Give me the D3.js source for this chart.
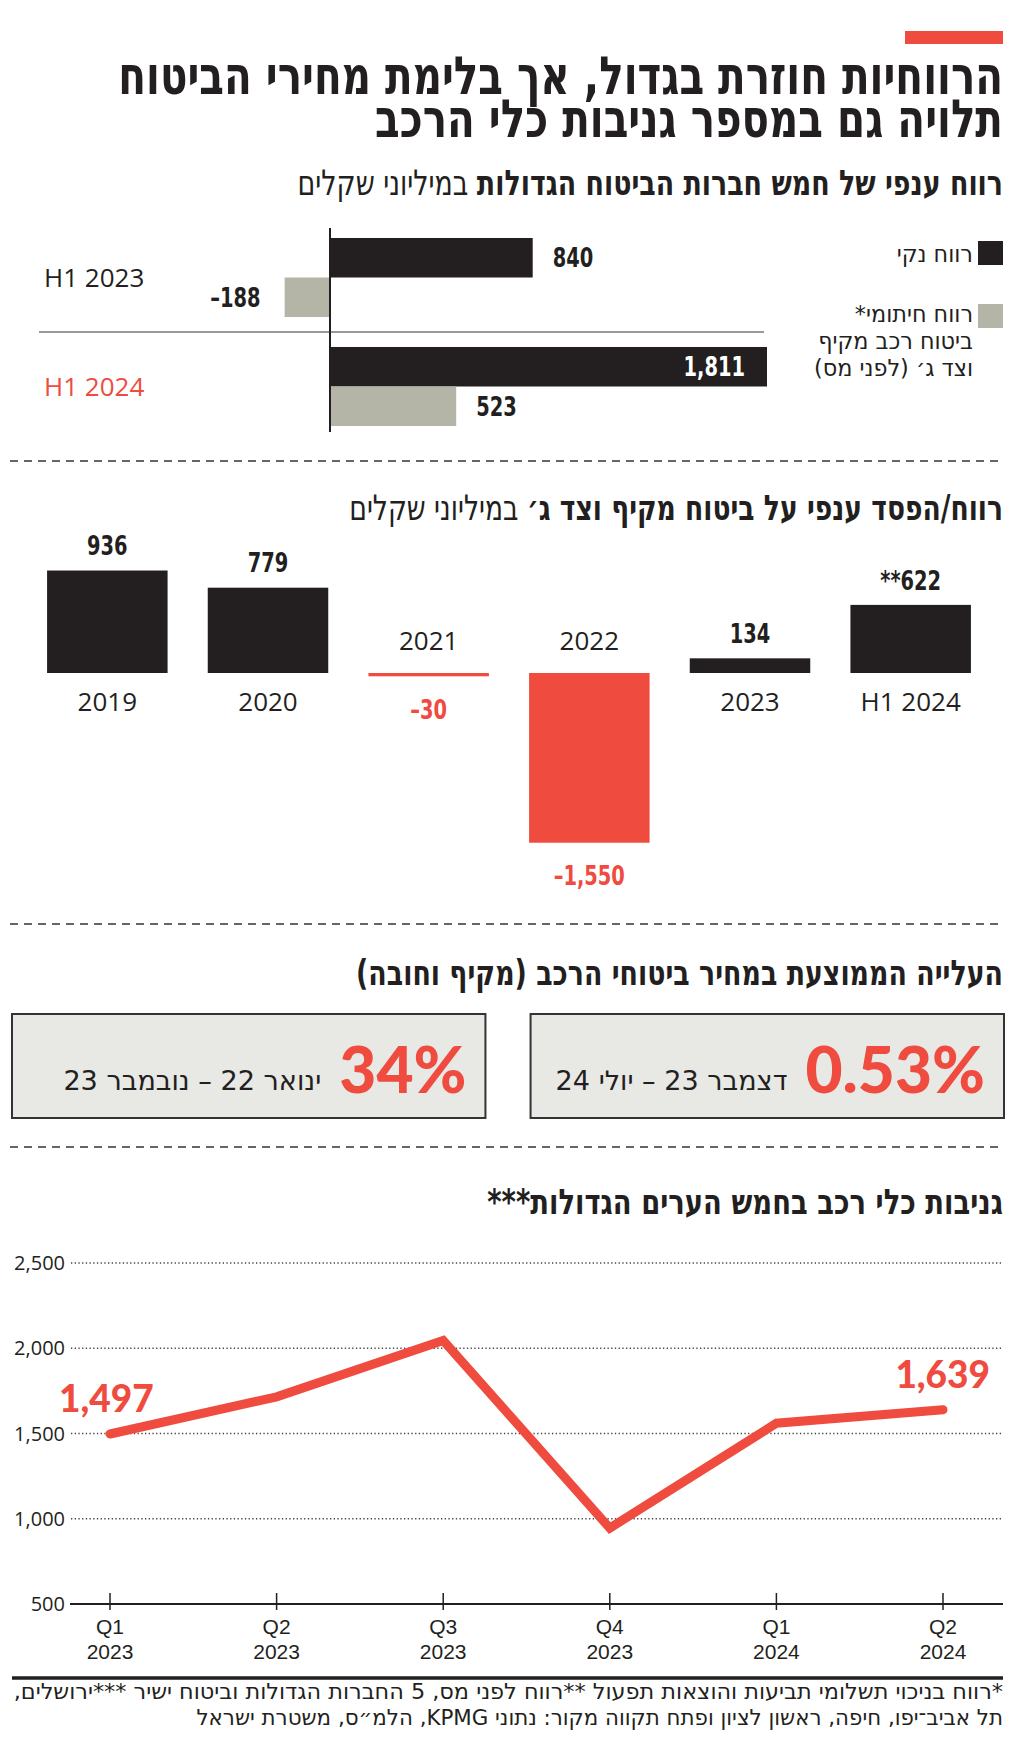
<!DOCTYPE html>
<html>
<head>
<meta charset="utf-8">
<script src="https://cdn.jsdelivr.net/npm/d3@7"></script>
<style>
  body { margin: 0; background: #fff; }
  svg { display: block; }
</style>
</head>
<body>
<div id="chart"></div>
<script>
const W = 1024, H = 1742;
const RED = "#ef4b3f", INK = "#231f20", STONE = "#b4b5a7", BOX = "#e8e8e5";
const COND = "'Liberation Sans Narrow', 'DejaVu Sans Condensed', sans-serif";
const SANS = "'Open Sans', 'Liberation Sans', sans-serif";
const ROUND = "Lato, 'Open Sans', sans-serif";

// headline
const titleLines = ["הרווחיות חוזרת בגדול, אך בלימת מחירי הביטוח", "תלויה גם במספר גניבות כלי הרכב"];
const unitText = " במיליוני שקלים";

// chart 1: profit of the five big insurers
const halves = ["H1 2023", "H1 2024"];
const netProfit = [840, 1811];
const uwProfit = [-188, 523];
const legendNet = ["רווח נקי"];
const legendUw = ["רווח חיתומי*", "ביטוח רכב מקיף", "וצד ג׳ (לפני מס)"];

// chart 2: motor segment profit/loss
const segYears = ["2019", "2020", "2021", "2022", "2023", "H1 2024"];
const segProfit = [936, 779, -30, -1550, 134, 622];
const segNotes = ["", "", "", "", "", "**"];

// chart 3: average price rise
const rises = ["0.53%", "34%"];
const risePeriods = ["דצמבר 23 – יולי 24", "ינואר 22 – נובמבר 23"];

// chart 4: car thefts
const quarters = ["Q1", "Q2", "Q3", "Q4", "Q1", "Q2"];
const quarterYears = ["2023", "2023", "2023", "2023", "2024", "2024"];
const thefts = [1497, 1715, 2045, 945, 1560, 1639];
const theftTicks = [500, 1000, 1500, 2000, 2500];

const footLines = [
  "*רווח בניכוי תשלומי תביעות והוצאות תפעול **רווח לפני מס, 5 החברות הגדולות וביטוח ישיר ***ירושלים,",
  "תל אביב־יפו, חיפה, ראשון לציון ופתח תקווה מקור: נתוני KPMG, הלמ״ס, משטרת ישראל"
];

const fmt = d3.format(",");
const minus = v => fmt(v).replace("−", "–");

const svg = d3.select("#chart").append("svg")
    .attr("width", W)
    .attr("height", H)
    .style("font-family", SANS);

function heb(g, x, y, parts, size) {
  const t = g.append("text")
      .attr("x", x)
      .attr("y", y)
      .attr("direction", "rtl")
      .attr("text-anchor", "start")
      .style("font-family", COND)
      .style("font-size", size + "px")
      .attr("fill", INK);
  parts.forEach(p => t.append("tspan").style("font-weight", p[1] ? 700 : 400).text(p[0]));
  return t;
}

// squeeze a text horizontally around x so that it is `width` wide
function squeeze(t, x, width) {
  const w = t.node().getBBox().width;
  narrow(t, x, width / w);
}

function narrow(t, x, k) {
  t.attr("transform", `translate(${x},0) scale(${k},1) translate(${-x},0)`);
}

function dashed(y) {
  svg.append("line")
      .attr("x1", 10).attr("x2", 1003)
      .attr("y1", y).attr("y2", y)
      .attr("stroke", "#333")
      .attr("stroke-width", 1.6)
      .attr("stroke-dasharray", "8,6");
}

function numLabel(g, x, y, anchor, color, txt) {
  const t = g.append("text")
      .attr("x", x)
      .attr("y", y)
      .attr("dy", "0.36em")
      .attr("text-anchor", anchor)
      .style("font-family", COND)
      .style("font-weight", 700)
      .style("font-size", "27px")
      .attr("fill", color)
      .text(txt);
  narrow(t, x, 0.8);
  return t;
}

// ---------- header ----------
svg.append("rect").attr("x", 905).attr("y", 31).attr("width", 98).attr("height", 13).attr("fill", RED);
const title = svg.append("text")
    .attr("direction", "rtl")
    .attr("text-anchor", "start")
    .style("font-family", COND)
    .style("font-weight", 700)
    .style("font-size", "53px")
    .attr("fill", INK);
titleLines.forEach((s, i) => title.append("tspan").attr("x", 1003).attr("y", 94 + i * 43).text(s));
squeeze(title, 1003, 885);

// ---------- chart 1 ----------
squeeze(heb(svg, 1003, 195, [["רווח ענפי של חמש חברות הביטוח הגדולות", 1], [unitText, 0]], 35), 1003, 706);

const c1 = svg.append("g");
const x1 = d3.scaleLinear().domain([0, 1811]).range([330, 767]);
const y1 = d3.scaleBand().domain(halves).range([223, 441]).paddingInner(0.275).paddingOuter(0.1375);
const sub = d3.scaleBand().domain(["net", "uw"]).range([0, y1.bandwidth()]);

const rows = halves.map((h, i) => ({ h, net: netProfit[i], uw: uwProfit[i] }));

rows.forEach(r => {
  [["net", r.net, INK], ["uw", r.uw, STONE]].forEach(([k, v, c]) => {
    const yy = y1(r.h) + sub(k);
    c1.append("rect")
        .attr("x", x1(Math.min(0, v)))
        .attr("y", yy)
        .attr("width", Math.abs(x1(v) - x1(0)))
        .attr("height", sub.bandwidth())
        .attr("fill", c);
    const inside = v === d3.max(netProfit);
    numLabel(c1,
        inside ? x1(v) - 22 : v < 0 ? x1(v) - 24 : x1(v) + 20,
        yy + sub.bandwidth() / 2,
        inside || v < 0 ? "end" : "start",
        inside ? "#fff" : INK,
        minus(v));
  });
  c1.append("text")
      .attr("x", 44)
      .attr("y", y1(r.h) + y1.bandwidth() / 2)
      .attr("dy", "0.36em")
      .style("font-size", "26px")
      .attr("fill", r.h === "H1 2024" ? RED : INK)
      .text(r.h);
});

c1.append("line")
    .attr("x1", 39).attr("x2", 764)
    .attr("y1", y1(halves[1]) - y1.step() * y1.paddingInner() / 2)
    .attr("y2", y1(halves[1]) - y1.step() * y1.paddingInner() / 2)
    .attr("stroke", "#777").attr("stroke-width", 1.5);

c1.append("line")
    .attr("x1", x1(0)).attr("x2", x1(0))
    .attr("y1", 228).attr("y2", 432)
    .attr("stroke", INK).attr("stroke-width", 2);

// legend
c1.append("rect").attr("x", 978).attr("y", 241).attr("width", 25).attr("height", 24).attr("fill", INK);
c1.append("rect").attr("x", 978).attr("y", 304).attr("width", 25).attr("height", 24).attr("fill", STONE);
legendNet.forEach((s, i) => narrow(heb(c1, 973, 262 + i * 27, [[s, 0]], 23), 973, 1.08));
legendUw.forEach((s, i) => narrow(heb(c1, 973, 322 + i * 27, [[s, 0]], 23), 973, 1.08));

dashed(461);

// ---------- chart 2 ----------
squeeze(heb(svg, 1003, 520, [["רווח/הפסד ענפי על ביטוח מקיף וצד ג׳", 1], [unitText, 0]], 35), 1003, 654);

const c2 = svg.append("g");
const x2 = d3.scaleBand().domain(segYears).range([27, 991]).paddingInner(0.25).paddingOuter(0.125);
const y2 = d3.scaleLinear().domain([0, 1000]).range([673, 563.5]);

segYears.forEach((yr, i) => {
  const v = segProfit[i];
  const cx = x2(yr) + x2.bandwidth() / 2;
  c2.append("rect")
      .attr("x", x2(yr))
      .attr("y", y2(Math.max(0, v)))
      .attr("width", x2.bandwidth())
      .attr("height", Math.abs(y2(v) - y2(0)))
      .attr("fill", v < 0 ? RED : INK);
  numLabel(c2, cx, v < 0 ? y2(v) + 33 : y2(v) - 25, "middle", v < 0 ? RED : INK, segNotes[i] + minus(v));
  c2.append("text")
      .attr("x", cx)
      .attr("y", v < 0 ? y2(0) - 32 : y2(0) + 29)
      .attr("dy", "0.36em")
      .attr("text-anchor", "middle")
      .style("font-size", "26px")
      .attr("fill", INK)
      .text(yr);
});

dashed(924);

// ---------- chart 3 ----------
squeeze(heb(svg, 1003, 985, [["העלייה הממוצעת במחיר ביטוחי הרכב (מקיף וחובה)", 1]], 35), 1003, 647);

const c3 = svg.append("g");
const x3 = d3.scaleBand().domain(rises).range([1004, 12]).paddingInner(0.087);
const periodWidth = [232, 258];

rises.forEach((r, i) => {
  const bx = x3(r), bw = x3.bandwidth();
  c3.append("rect")
      .attr("x", bx).attr("y", 1014)
      .attr("width", bw).attr("height", 104)
      .attr("fill", BOX)
      .attr("stroke", "#333").attr("stroke-width", 2);
  const big = c3.append("text")
      .attr("x", bx + bw - 19)
      .attr("y", 1093)
      .attr("text-anchor", "end")
      .style("font-family", ROUND)
      .style("font-weight", 900)
      .style("font-size", "64px")
      .attr("fill", RED)
      .text(r);
  const px = bx + bw - 19 - big.node().getComputedTextLength() - 18;
  squeeze(heb(c3, px, 1090, [[risePeriods[i], 0]], 27), px, periodWidth[i]);
});

dashed(1147);

// ---------- chart 4 ----------
squeeze(heb(svg, 1003, 1214, [["גניבות כלי רכב בחמש הערים הגדולות***", 1]], 35), 1003, 516);

const c4 = svg.append("g");
const x4 = d3.scalePoint().domain(d3.range(thefts.length)).range([110, 943]);
const y4 = d3.scaleLinear().domain([500, 2500]).range([1604, 1263]);

c4.selectAll(".grid")
  .data(theftTicks.filter(t => t > 500))
  .join("line")
    .attr("x1", 71).attr("x2", 1003)
    .attr("y1", d => y4(d)).attr("y2", d => y4(d))
    .attr("stroke", "#444")
    .attr("stroke-width", 1.3)
    .attr("stroke-dasharray", "1.3,2.4");

c4.append("line")
    .attr("x1", 70).attr("x2", 1003)
    .attr("y1", y4(500)).attr("y2", y4(500))
    .attr("stroke", INK).attr("stroke-width", 2.2);

c4.selectAll(".ytick")
  .data(theftTicks)
  .join("text")
    .attr("x", 65)
    .attr("y", d => y4(d))
    .attr("dy", "0.36em")
    .attr("text-anchor", "end")
    .style("font-size", "20px")
    .attr("fill", INK)
    .text(d => fmt(d));

quarters.forEach((q, i) => {
  c4.append("line")
      .attr("x1", x4(i)).attr("x2", x4(i))
      .attr("y1", y4(500) - 11).attr("y2", y4(500) + 6)
      .attr("stroke", INK).attr("stroke-width", 1.5);
  const t = c4.append("text")
      .attr("text-anchor", "middle")
      .style("font-family", "'Liberation Sans', sans-serif")
      .style("font-size", "21px")
      .attr("fill", INK);
  t.append("tspan").attr("x", x4(i)).attr("y", 1634).text(q);
  t.append("tspan").attr("x", x4(i)).attr("y", 1659).text(quarterYears[i]);
});

c4.append("path")
    .datum(thefts)
    .attr("d", d3.line().x((d, i) => x4(i)).y(d => y4(d)))
    .attr("fill", "none")
    .attr("stroke", RED)
    .attr("stroke-width", 9)
    .attr("stroke-linecap", "round")
    .attr("stroke-linejoin", "miter");

[0, thefts.length - 1].forEach(i => {
  c4.append("text")
      .attr("x", i === 0 ? x4(i) - 51 : x4(i) + 47)
      .attr("y", y4(thefts[i]) - 22)
      .attr("text-anchor", i === 0 ? "start" : "end")
      .style("font-family", ROUND)
      .style("font-weight", 900)
      .style("font-size", "37px")
      .attr("fill", RED)
      .text(fmt(thefts[i]));
});

// ---------- footer ----------
svg.append("line")
    .attr("x1", 12).attr("x2", 1003)
    .attr("y1", 1678).attr("y2", 1678)
    .attr("stroke", INK).attr("stroke-width", 3.5);

squeeze(heb(svg, 1003, 1699, [[footLines[0], 0]], 22), 1003, 990);
squeeze(heb(svg, 1003, 1725, [[footLines[1], 0]], 22), 1003, 807);
</script>
</body>
</html>
